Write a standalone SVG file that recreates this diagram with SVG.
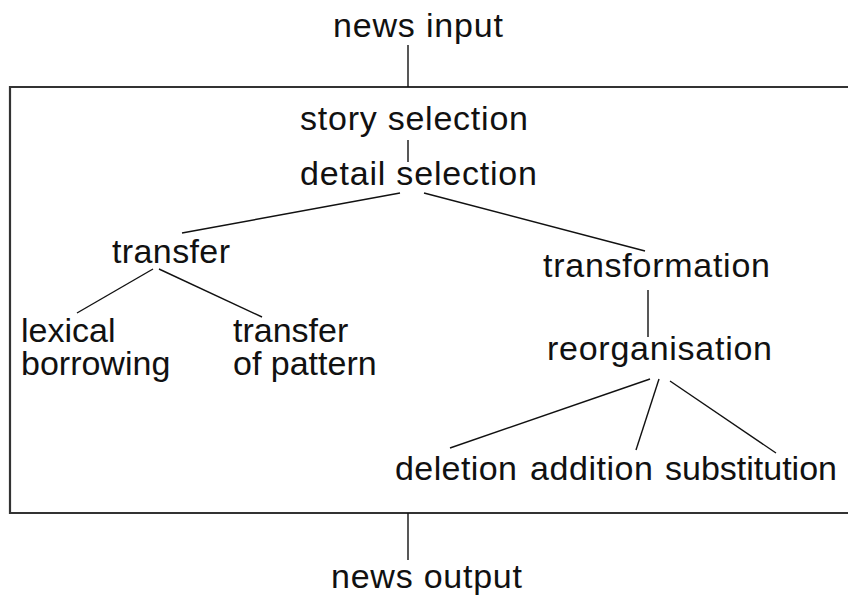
<svg xmlns="http://www.w3.org/2000/svg" width="848" height="595" viewBox="0 0 848 595">
<style>
text { font-family: "Liberation Sans", Arial, sans-serif; font-size: 34px; fill: #111; }
.c line { stroke: #111; stroke-width: 1.4; fill: none; }
.box { stroke: #333; stroke-width: 2.2; fill: none; }
</style>
<rect width="848" height="595" fill="#fff"/>
<path class="box" d="M 852 87 H 10 V 513 H 852"/>
<g class="c">
<line x1="408" y1="45" x2="408" y2="87"/>
<line x1="408" y1="140" x2="408" y2="162"/>
<line x1="400" y1="193" x2="182" y2="233"/>
<line x1="424" y1="193" x2="645" y2="251"/>
<line x1="153" y1="269" x2="77" y2="313"/>
<line x1="159" y1="269" x2="262" y2="317"/>
<line x1="648" y1="290" x2="648" y2="337"/>
<line x1="650" y1="379" x2="450" y2="448"/>
<line x1="659" y1="379" x2="636" y2="450"/>
<line x1="670" y1="381" x2="776" y2="453"/>
<line x1="408" y1="513" x2="408" y2="560"/>
</g>
<g id="news-input"><text x="333" y="37" textLength="170">news input</text></g>
<g id="story-selection"><text x="300" y="130" textLength="228">story selection</text></g>
<g id="detail-selection"><text x="300" y="185" textLength="237">detail selection</text></g>
<g id="transfer"><text x="112" y="263" textLength="118">transfer</text></g>
<g id="transformation"><text x="543" y="277" textLength="227">transformation</text></g>
<g id="lexical-borrowing"><text x="21" y="342">lexical<tspan x="21" dy="33">borrowing</tspan></text></g>
<g id="transfer-of-pattern"><text x="233" y="342">transfer<tspan x="233" dy="33">of pattern</tspan></text></g>
<g id="reorganisation"><text x="547" y="360" textLength="225">reorganisation</text></g>
<g id="deletion"><text x="395" y="480" textLength="122">deletion</text></g>
<g id="addition"><text x="530" y="480" textLength="123">addition</text></g>
<g id="substitution"><text x="665" y="480" textLength="172">substitution</text></g>
<g id="news-output"><text x="331" y="588" textLength="191">news output</text></g>
</svg>
